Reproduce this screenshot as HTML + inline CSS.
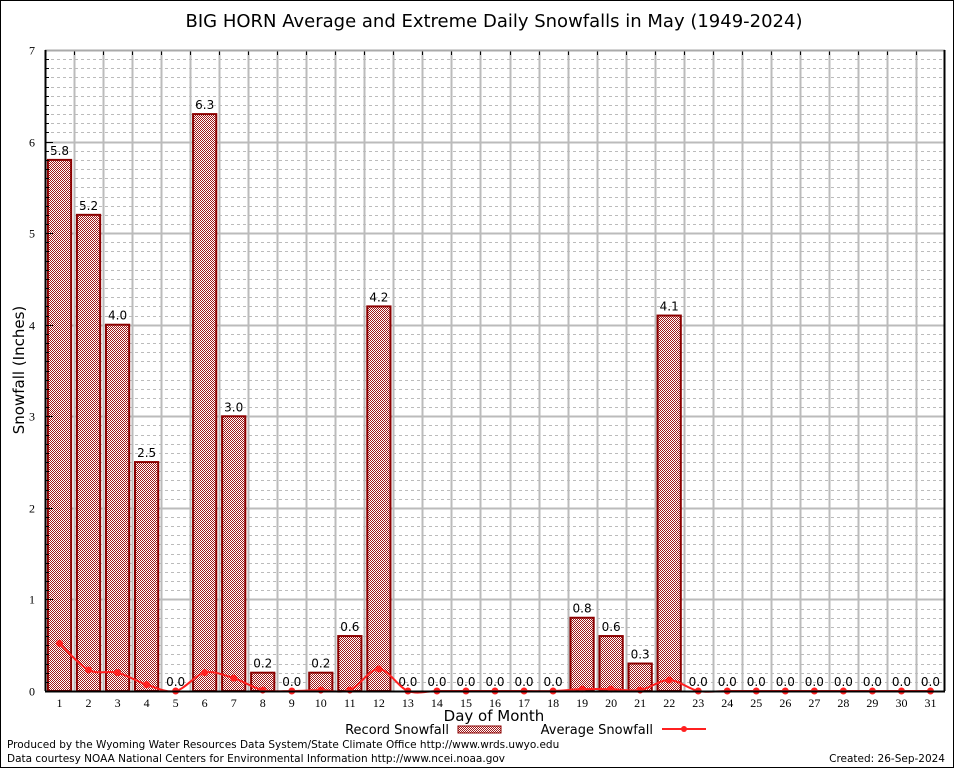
<!DOCTYPE html>
<html><head><meta charset="utf-8"><style>
html,body{margin:0;padding:0;background:#fff}
svg{display:block;font-family:"DejaVu Sans","Liberation Sans",sans-serif}
</style></head><body>
<svg id="chart" width="954" height="768" viewBox="0 0 954 768" xmlns="http://www.w3.org/2000/svg">
<defs>
<pattern id="chk" width="2" height="2" patternUnits="userSpaceOnUse">
<rect width="2" height="2" fill="#fff"/><rect width="1" height="1" fill="#a01818"/><rect x="1" y="1" width="1" height="1" fill="#a01818"/>
</pattern>
</defs>
<rect x="0.5" y="0.5" width="953" height="767" fill="#fff" stroke="#000"/>
<text x="494" y="27" font-size="18" text-anchor="middle">BIG HORN Average and Extreme Daily Snowfalls in May (1949-2024)</text>
<g id="grid"></g>
<g id="bars"></g>
<g id="line"></g>
<g id="axes"></g>
<text x="24" y="370" font-size="15" text-anchor="middle" transform="rotate(-90 24 370)">Snowfall (Inches)</text>
<text x="494" y="721" font-size="15" text-anchor="middle">Day of Month</text>
<g>
<text x="449" y="734" font-size="13" text-anchor="end">Record Snowfall</text>
<rect x="458" y="726" width="43" height="7" fill="url(#chk)" stroke="#8b0000"/>
<text x="653" y="734" font-size="13" text-anchor="end">Average Snowfall</text>
<line x1="662" y1="729" x2="706" y2="729" stroke="#ff2020" stroke-width="2"/>
<circle cx="684" cy="729" r="3" fill="#ff2020"/>
</g>
<text x="7" y="748" font-size="10.5">Produced by the Wyoming Water Resources Data System/State Climate Office http://www.wrds.uwyo.edu</text>
<text x="7" y="762" font-size="10.5">Data courtesy NOAA National Centers for Environmental Information http://www.ncei.noaa.gov</text>
<text x="945" y="762" font-size="10.5" text-anchor="end">Created: 26-Sep-2024</text>
</svg>
<script>
const days = [1,2,3,4,5,6,7,8,9,10,11,12,13,14,15,16,17,18,19,20,21,22,23,24,25,26,27,28,29,30,31];
const recordSnow = [5.8,5.2,4.0,2.5,0.0,6.3,3.0,0.2,0.0,0.2,0.6,4.2,0.0,0.0,0.0,0.0,0.0,0.0,0.8,0.6,0.3,4.1,0.0,0.0,0.0,0.0,0.0,0.0,0.0,0.0,0.0];
const avgSnow = [0.52,0.23,0.20,0.07,0.0,0.20,0.14,0.01,0.0,0.01,0.01,0.24,0.0,0.0,0.0,0.0,0.0,0.0,0.02,0.02,0.01,0.12,0.0,0.0,0.0,0.0,0.0,0.0,0.0,0.0,0.0];
const yTicks = [0,1,2,3,4,5,6,7];

const NS="http://www.w3.org/2000/svg";
const L=45,R=945,T=50,B=691,YMAX=7;
const step=(R-L)/days.length;
const xc=d=>L+(d-0.5)*step;
const y=v=>B-v/YMAX*(B-T);
function mk(tag,attrs,parent){const e=document.createElementNS(NS,tag);for(const k in attrs)e.setAttribute(k,attrs[k]);parent.appendChild(e);return e;}
const grid=document.getElementById('grid'),bars=document.getElementById('bars'),line=document.getElementById('line'),axes=document.getElementById('axes');
for(let i=1;i<YMAX*10;i++){if(i%10===0)continue;const yy=Math.round(y(i/10))+0.5;
 const g=mk('line',{x1:L,x2:R,y1:yy,y2:yy,stroke:'#bbb','stroke-dasharray':'3,3'},grid);
 
 }
yTicks.forEach(t=>{const yy=Math.round(y(t))+0.5;
 const g=mk('line',{x1:L,x2:R,y1:yy,y2:yy,stroke:'#bbb','stroke-width':2},grid);
 
 
 const tx=mk('text',{x:L-10,y:yy+4,'font-size':12,'text-anchor':'end','font-family':'Liberation Serif, serif'},axes);tx.textContent=t;
 
 
 for(let m=0;m<10&&t<YMAX;m++){const my=Math.round(y(t+m/10))+0.5;mk('line',{x1:L,x2:L+(m===0?8:4),y1:my,y2:my,stroke:'#000'},axes);}
});
for(let i=1;i<days.length;i++){const xx=Math.round(L+i*step)+0.5;
 const g=mk('line',{x1:xx,x2:xx,y1:T,y2:B,stroke:'#bbb','stroke-width':2},grid);
 
 
 mk('line',{x1:xx,x2:xx,y1:T,y2:T+5,stroke:'#000'},axes);}
days.forEach((d,i)=>{const v=recordSnow[i];const w=step*0.8;
 if(v>0){const r=mk('rect',{x:xc(d)-w/2,y:y(v),width:w,height:B-y(v),fill:'url(#chk)',stroke:'#8b0000','stroke-width':2},bars);
 
 }
 const t=mk('text',{x:xc(d),y:y(v)-5,'font-size':12,'text-anchor':'middle'},bars);t.textContent=v.toFixed(1);
 
 
 const xl=mk('text',{x:xc(d),y:B+16,'font-size':12,'text-anchor':'middle','font-family':'Liberation Serif, serif'},axes);xl.textContent=d;
 
 
});
const pts=days.map((d,i)=>[xc(d),y(avgSnow[i])]);
let dstr='M'+pts[0][0]+','+pts[0][1];
for(let i=0;i<pts.length-1;i++){const p0=pts[i-1]||pts[i],p1=pts[i],p2=pts[i+1],p3=pts[i+2]||p2;
 dstr+=` C${p1[0]+(p2[0]-p0[0])/6},${p1[1]+(p2[1]-p0[1])/6} ${p2[0]-(p3[0]-p1[0])/6},${p2[1]-(p3[1]-p1[1])/6} ${p2[0]},${p2[1]}`;}
const pl=mk('path',{d:dstr,fill:'none',stroke:'#ff2020','stroke-width':2},line);


pts.forEach(p=>{const c=mk('circle',{cx:p[0],cy:p[1],r:3.5,fill:'#ff2020'},line);
 
 });
mk('line',{x1:L,x2:R,y1:T+0.5,y2:T+0.5,stroke:'#aaa','stroke-width':2},axes);
mk('line',{x1:L+0.5,x2:L+0.5,y1:T,y2:B,stroke:'#000','stroke-width':2},axes);
mk('line',{x1:R-0.5,x2:R-0.5,y1:T,y2:B,stroke:'#000','stroke-width':2},axes);
mk('line',{x1:L,x2:R,y1:B+0.5,y2:B+0.5,stroke:'#000','stroke-width':2},axes);
</script>
</body></html>
